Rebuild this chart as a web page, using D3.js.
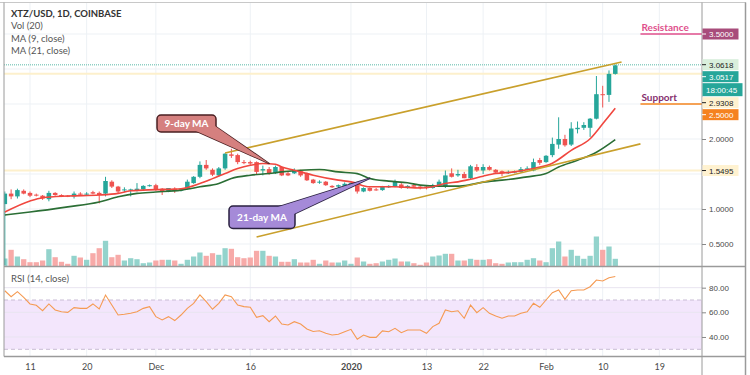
<!DOCTYPE html>
<html>
<head>
<meta charset="utf-8">
<script src="https://cdn.jsdelivr.net/npm/d3@7"></script>
<style>
  body { margin: 0; background: #fff; }
  svg { display: block; }
  text { font-family: Lato, "Open Sans", sans-serif; }
</style>
</head>
<body>
<script>
// daily candles, 7 Nov 2019 .. 12 Feb 2020
var firstDay = new Date(Date.UTC(2019, 10, 7));
var lastDay = new Date(Date.UTC(2020, 1, 12));

var opens = [
  1.07, 1.22, 1.18, 1.26, 1.23, 1.205, 1.19, 1.14, 1.23, 1.20,
  1.19, 1.18, 1.22, 1.21, 1.24, 1.23, 1.22, 1.39, 1.32, 1.27,
  1.27, 1.26, 1.28, 1.33, 1.34, 1.29, 1.25, 1.29, 1.26, 1.29,
  1.37, 1.46, 1.63, 1.56, 1.48, 1.58, 1.78, 1.77, 1.67, 1.67,
  1.67, 1.55, 1.57, 1.51, 1.60, 1.51, 1.51, 1.54, 1.51, 1.42,
  1.38, 1.39, 1.33, 1.32, 1.33, 1.35, 1.34, 1.25, 1.30, 1.28,
  1.27, 1.31, 1.32, 1.35, 1.30, 1.34, 1.32, 1.32, 1.30, 1.34,
  1.32, 1.51, 1.48, 1.50, 1.44, 1.60, 1.55, 1.60, 1.56, 1.54,
  1.51, 1.52, 1.53, 1.56, 1.55, 1.70, 1.67, 1.77, 1.92, 2.00,
  1.92, 2.14, 2.16, 2.16, 2.29, 2.64, 2.63, 2.93
];
var highs = [
  1.25, 1.28, 1.29, 1.28, 1.25, 1.22, 1.20, 1.26, 1.24, 1.21,
  1.20, 1.25, 1.24, 1.24, 1.26, 1.25, 1.46, 1.41, 1.33, 1.31,
  1.29, 1.37, 1.34, 1.35, 1.36, 1.30, 1.30, 1.31, 1.30, 1.42,
  1.47, 1.68, 1.70, 1.58, 1.60, 1.80, 1.86, 1.79, 1.70, 1.69,
  1.68, 1.62, 1.60, 1.62, 1.61, 1.53, 1.58, 1.56, 1.52, 1.43,
  1.41, 1.40, 1.34, 1.35, 1.38, 1.38, 1.35, 1.31, 1.31, 1.30,
  1.33, 1.34, 1.42, 1.37, 1.34, 1.36, 1.33, 1.33, 1.36, 1.42,
  1.55, 1.58, 1.56, 1.53, 1.63, 1.64, 1.64, 1.62, 1.57, 1.55,
  1.55, 1.55, 1.60, 1.61, 1.72, 1.73, 1.77, 2.02, 2.31, 2.06,
  2.24, 2.25, 2.24, 2.30, 2.90, 2.76, 2.98, 3.0618
];
var lows = [
  0.20, 1.14, 1.15, 1.21, 1.17, 1.18, 1.13, 1.11, 1.19, 1.17,
  1.17, 1.15, 1.19, 1.19, 1.21, 1.08, 1.18, 1.30, 1.22, 1.24,
  1.18, 1.25, 1.26, 1.32, 1.26, 1.20, 1.24, 1.23, 1.25, 1.28,
  1.36, 1.44, 1.56, 1.47, 1.46, 1.56, 1.73, 1.64, 1.64, 1.63,
  1.50, 1.48, 1.49, 1.50, 1.47, 1.47, 1.50, 1.46, 1.40, 1.36,
  1.36, 1.33, 1.30, 1.30, 1.32, 1.34, 1.22, 1.24, 1.25, 1.26,
  1.26, 1.30, 1.31, 1.29, 1.29, 1.31, 1.28, 1.28, 1.29, 1.33,
  1.30, 1.45, 1.46, 1.44, 1.43, 1.53, 1.50, 1.55, 1.51, 1.47,
  1.50, 1.51, 1.52, 1.55, 1.54, 1.63, 1.66, 1.74, 1.86, 1.89,
  1.90, 2.08, 2.13, 2.03, 2.28, 2.45, 2.53, 2.92
];
var closes = [
  1.22, 1.18, 1.27, 1.22, 1.19, 1.20, 1.15, 1.23, 1.20, 1.18,
  1.18, 1.22, 1.21, 1.22, 1.22, 1.20, 1.40, 1.32, 1.25, 1.28,
  1.28, 1.29, 1.33, 1.34, 1.28, 1.25, 1.30, 1.26, 1.29, 1.39,
  1.46, 1.63, 1.58, 1.49, 1.58, 1.79, 1.76, 1.67, 1.66, 1.65,
  1.53, 1.57, 1.51, 1.60, 1.48, 1.48, 1.55, 1.48, 1.41, 1.37,
  1.39, 1.34, 1.31, 1.34, 1.36, 1.37, 1.25, 1.30, 1.26, 1.27,
  1.32, 1.33, 1.39, 1.30, 1.33, 1.32, 1.30, 1.30, 1.34, 1.39,
  1.48, 1.46, 1.50, 1.44, 1.61, 1.55, 1.60, 1.56, 1.52, 1.51,
  1.53, 1.54, 1.57, 1.58, 1.67, 1.66, 1.76, 1.93, 2.00, 1.91,
  2.15, 2.16, 2.20, 2.29, 2.64, 2.63, 2.93, 3.0517
];
// volume, thousands
var volumes = [
  8, 16.7, 10, 7.3, 4.3, 4.3, 6, 17.3, 9.3, 4.7,
  2.7, 10.7, 9, 6.7, 13.3, 18.3, 25.7, 9.3, 11.7, 6,
  8.3, 7.3, 3.3, 4, 6, 6.7, 6.7, 6, 2.7, 6.7,
  10, 14, 10.7, 13.3, 11.7, 18.3, 17.7, 9.3, 8.3, 9,
  15.7, 15.7, 10.7, 10, 4.7, 4.7, 7.3, 4, 4, 6.7,
  2.7, 6, 4, 4, 6, 2.7, 9, 5, 2.7, 3.3,
  5, 6.7, 8, 5, 5, 3.3, 1.7, 4, 10, 11,
  12.7, 12.7, 6, 6, 7.7, 6.7, 6.7, 7.3, 3.3, 2.7,
  4, 4.3, 4.3, 6.7, 8.3, 6, 4.3, 18.3, 25, 10,
  16.7, 10.7, 7.7, 10.7, 30, 16.7, 20, 7.7
];
var rsiValues = [
  77.5, 72.7, 76.8, 72.2, 66.8, 65.7, 61.3, 66.8, 61.9, 60.5,
  60.0, 63.8, 63.2, 63.2, 66.8, 62.7, 74.0, 66.0, 57.8, 58.4,
  59.2, 60.5, 63.2, 64.6, 56.5, 53.8, 56.5, 53.3, 57.8, 63.2,
  67.3, 74.1, 68.6, 62.5, 67.3, 74.1, 72.7, 65.9, 64.6, 64.1,
  56.0, 57.3, 52.4, 57.0, 50.5, 49.7, 52.4, 50.5, 46.5, 44.5,
  45.1, 43.0, 41.6, 42.2, 44.3, 46.2, 38.1, 41.6, 39.7, 39.7,
  44.9, 44.3, 47.0, 43.5, 45.7, 45.7, 45.7, 43.0, 48.4, 51.1,
  61.9, 60.5, 61.3, 55.2, 65.9, 59.7, 63.8, 59.2, 57.0, 55.2,
  57.0, 57.0, 59.2, 60.5, 67.3, 64.1, 70.0, 75.9, 78.1, 70.5,
  77.5, 78.1, 78.1, 80.8, 86.2, 85.4, 88.1, 89.0
];

// moving averages
var ma9Dates = ["2019-11-07", "2019-11-11", "2019-11-13", "2019-11-17", "2019-11-22", "2019-11-25",
  "2019-11-27", "2019-12-01", "2019-12-05", "2019-12-08", "2019-12-10", "2019-12-12", "2019-12-14",
  "2019-12-16", "2019-12-18", "2019-12-20", "2019-12-21", "2019-12-23", "2019-12-26", "2019-12-30",
  "2020-01-01", "2020-01-04", "2020-01-08", "2020-01-12", "2020-01-14", "2020-01-16", "2020-01-18",
  "2020-01-20", "2020-01-22", "2020-01-24", "2020-01-27", "2020-01-30", "2020-02-02", "2020-02-05",
  "2020-02-08", "2020-02-10", "2020-02-12"];
var ma9Values = [0.956, 1.114, 1.161, 1.185, 1.199, 1.223,
  1.26, 1.277, 1.29, 1.365, 1.434, 1.507, 1.578,
  1.625, 1.649, 1.64, 1.60, 1.554, 1.483, 1.412,
  1.388, 1.317, 1.317, 1.30, 1.317, 1.365, 1.388,
  1.426, 1.469, 1.507, 1.53, 1.578, 1.654, 1.838,
  2.004, 2.217, 2.439];
var ma21Dates = ["2019-11-07", "2019-11-11", "2019-11-17", "2019-11-22", "2019-11-25", "2019-11-28",
  "2019-12-01", "2019-12-05", "2019-12-08", "2019-12-11", "2019-12-13", "2019-12-16", "2019-12-19",
  "2019-12-21", "2019-12-24", "2019-12-27", "2019-12-30", "2020-01-02", "2020-01-04", "2020-01-07",
  "2020-01-10", "2020-01-12", "2020-01-15", "2020-01-18", "2020-01-20", "2020-01-22", "2020-01-25",
  "2020-01-29", "2020-02-01", "2020-02-03", "2020-02-06", "2020-02-09", "2020-02-12"];
var ma21Values = [0.915, 0.956, 1.03, 1.10, 1.175, 1.223,
  1.242, 1.27, 1.317, 1.365, 1.436, 1.483, 1.507,
  1.53, 1.554, 1.564, 1.53, 1.505, 1.436, 1.398,
  1.374, 1.341, 1.327, 1.327, 1.348, 1.384, 1.412,
  1.459, 1.507, 1.60, 1.696, 1.81, 1.99];

// drawn channel lines: [date, price]
var upperChannel = [["2019-12-12", 1.80], ["2020-02-13", 3.10]];
var lowerChannel = [["2019-12-17", 0.60], ["2020-02-16", 1.93]];

// horizontal levels
var resistanceLevel = 3.5;
var supportLevel = 2.5;
var supportNote = 2.9308;
var baseLevel = 1.5495;
var countdownText = "18:00:45";

// x axis
var tickDates = ["2019-11-11", "2019-11-20", "2019-12-01", "2019-12-16", "2020-01-01",
  "2020-01-13", "2020-01-22", "2020-02-01", "2020-02-10", "2020-02-19"];
var tickLabels = ["11", "20", "Dec", "16", "2020", "13", "22", "Feb", "10", "19"];
var priceTicks = [0.5, 1, 2];
var priceGrid = [0.5, 1, 1.5, 2, 2.5, 3, 3.5];
var rsiTicks = [40, 60, 80];

var parse = d3.utcParse("%Y-%m-%d");
var dates = d3.utcDay.range(firstDay, d3.utcDay.offset(lastDay, 1));
var candles = dates.map(function(d, i) {
  return {date: d, open: opens[i], high: highs[i], low: lows[i], close: closes[i],
          volume: volumes[i], rsi: rsiValues[i]};
});
var ma9 = ma9Dates.map(function(d, i) { return {date: parse(d), v: ma9Values[i]}; });
var ma21 = ma21Dates.map(function(d, i) { return {date: parse(d), v: ma21Values[i]}; });

// layout
var width = 750, height = 375;
var plotLeft = 4, plotRight = 702, plotTop = 3;
var mainBottom = 266.5, rsiBottom = 356.5;

var x = d3.scaleUtc()
    .domain([parse("2019-11-11"), parse("2020-02-10")])
    .range([30, 602.7]);
var y = d3.scaleLinear().domain([1, 3.5]).range([209, 34]);
var yVol = d3.scaleLinear().domain([0, 30]).range([mainBottom, mainBottom - 30]);
var yRsi = d3.scaleLinear().domain([30, 70]).range([349.3, 300]);
var day = x(parse("2019-11-12")) - x(parse("2019-11-11"));

var up = "#26a69a", down = "#ef5350";
var gridColor = "#edf1f5";

var svg = d3.select("body").append("svg")
    .attr("width", width)
    .attr("height", height);

var defs = svg.append("defs");
defs.append("clipPath").attr("id", "plotclip")
  .append("rect")
    .attr("x", plotLeft).attr("y", plotTop)
    .attr("width", plotRight - plotLeft).attr("height", mainBottom - plotTop);
defs.append("clipPath").attr("id", "rsiclip")
  .append("rect")
    .attr("x", plotLeft).attr("y", mainBottom)
    .attr("width", plotRight - plotLeft).attr("height", rsiBottom - mainBottom);

// grid
svg.append("g").selectAll("line")
  .data(tickDates)
  .enter().append("line")
    .attr("x1", function(d) { return x(parse(d)); })
    .attr("x2", function(d) { return x(parse(d)); })
    .attr("y1", plotTop).attr("y2", rsiBottom)
    .attr("stroke", gridColor);

svg.append("g").selectAll("line")
  .data(priceGrid)
  .enter().append("line")
    .attr("x1", plotLeft).attr("x2", plotRight)
    .attr("y1", function(d) { return y(d); })
    .attr("y2", function(d) { return y(d); })
    .attr("stroke", gridColor);

// rsi background band
svg.append("rect")
    .attr("x", plotLeft).attr("width", plotRight - plotLeft)
    .attr("y", yRsi(70)).attr("height", yRsi(30) - yRsi(70))
    .attr("fill", "#f3e6fc");

svg.append("g").selectAll("line")
  .data(rsiTicks)
  .enter().append("line")
    .attr("x1", plotLeft).attr("x2", plotRight)
    .attr("y1", function(d) { return yRsi(d); })
    .attr("y2", function(d) { return yRsi(d); })
    .attr("stroke", "#e8e4f0");

svg.append("g").selectAll("line")
  .data([70, 30])
  .enter().append("line")
    .attr("x1", plotLeft).attr("x2", plotRight)
    .attr("y1", function(d) { return yRsi(d); })
    .attr("y2", function(d) { return yRsi(d); })
    .attr("stroke", "#c9bcd4")
    .attr("stroke-dasharray", "4,3");

// main pane content
var main = svg.append("g").attr("clip-path", "url(#plotclip)");

// pale level lines
main.selectAll(".level")
  .data([supportNote, baseLevel])
  .enter().append("line")
    .attr("x1", plotLeft).attr("x2", plotRight)
    .attr("y1", function(d) { return y(d); })
    .attr("y2", function(d) { return y(d); })
    .attr("stroke", "#fdf0cc")
    .attr("stroke-width", 2);

// last high dotted line
main.append("line")
    .attr("x1", plotLeft).attr("x2", plotRight)
    .attr("y1", y(highs[highs.length - 1]))
    .attr("y2", y(highs[highs.length - 1]))
    .attr("stroke", "#8fd0c4")
    .attr("stroke-width", 1.5)
    .attr("stroke-dasharray", "1,1");

// volume
main.selectAll(".vol")
  .data(candles)
  .enter().append("rect")
    .attr("x", function(d) { return x(d.date) - day * 0.42; })
    .attr("width", day * 0.84)
    .attr("y", function(d) { return yVol(d.volume); })
    .attr("height", function(d) { return yVol(0) - yVol(d.volume); })
    .attr("fill", function(d) { return d.close >= d.open ? "#93d3cc" : "#f7aaa8"; });

// candles
var c = main.selectAll(".candle")
  .data(candles)
  .enter().append("g");

c.append("line")
    .attr("x1", function(d) { return x(d.date); })
    .attr("x2", function(d) { return x(d.date); })
    .attr("y1", function(d) { return y(d.high); })
    .attr("y2", function(d) { return y(d.low); })
    .attr("stroke", function(d) { return d.close >= d.open ? up : down; });

c.append("rect")
    .attr("x", function(d) { return x(d.date) - day * 0.36; })
    .attr("width", day * 0.72)
    .attr("y", function(d) { return y(Math.max(d.open, d.close)); })
    .attr("height", function(d) { return Math.max(1, Math.abs(y(d.open) - y(d.close))); })
    .attr("fill", function(d) { return d.close >= d.open ? up : down; });

// moving averages
var maLine = d3.line()
    .x(function(d) { return x(d.date); })
    .y(function(d) { return y(d.v); })
    .curve(d3.curveMonotoneX);

main.append("path").datum(ma21)
    .attr("d", maLine)
    .attr("fill", "none")
    .attr("stroke", "#2b6e35")
    .attr("stroke-width", 1.6);

main.append("path").datum(ma9)
    .attr("d", maLine)
    .attr("fill", "none")
    .attr("stroke", "#f0473f")
    .attr("stroke-width", 1.6);

// channel lines
svg.selectAll(".channel")
  .data([upperChannel, lowerChannel])
  .enter().append("line")
    .attr("x1", function(d) { return x(parse(d[0][0])); })
    .attr("y1", function(d) { return y(d[0][1]); })
    .attr("x2", function(d) { return x(parse(d[1][0])); })
    .attr("y2", function(d) { return y(d[1][1]); })
    .attr("stroke", "#c9a02c")
    .attr("stroke-width", 1.6);

// rsi line
svg.append("path").datum(candles)
    .attr("d", d3.line()
      .x(function(d) { return x(d.date); })
      .y(function(d) { return yRsi(d.rsi); }))
    .attr("fill", "none")
    .attr("stroke", "#f59a52")
    .attr("stroke-width", 1.1)
    .attr("clip-path", "url(#rsiclip)");

// callouts: box plus a wedge pointing at the line
function callout(box, tip, tailA, tailB, text, fill, stroke) {
  var L = box[0], T = box[1], R = box[2], B = box[3];
  var wedge = "M" + tailA + "L" + tip + "L" + tailB + "Z";
  svg.append("path")
      .attr("d", wedge)
      .attr("fill", fill).attr("stroke", stroke).attr("stroke-width", 1.5)
      .attr("stroke-linejoin", "round");
  svg.append("rect")
      .attr("x", L).attr("y", T).attr("width", R - L).attr("height", B - T)
      .attr("rx", 4)
      .attr("fill", fill).attr("stroke", stroke).attr("stroke-width", 1.5);
  // cover the box border where the wedge joins
  svg.append("path")
      .attr("d", wedge)
      .attr("fill", fill);
  svg.append("text")
      .attr("x", (L + R) / 2).attr("y", (T + B) / 2 + 3.5)
      .attr("text-anchor", "middle")
      .attr("fill", "#fff")
      .style("font-size", "10px").style("font-weight", "bold")
      .text(text);
}

var tip9 = [x(parse("2019-12-19")), y(1.65)];
callout([157, 115, 216, 132], tip9, [196, 131], [215, 126], "9-day MA", "#d5807f", "#4a1f22");
var tip21 = [x(parse("2020-01-04")), y(1.44)];
callout([229, 206, 295, 228.5], tip21, [278, 207], [294, 214], "21-day MA", "#a58ad8", "#2a2140");

// resistance / support markers
var markStart = x(parse("2020-02-16"));
svg.append("line")
    .attr("x1", markStart).attr("x2", plotRight)
    .attr("y1", y(resistanceLevel)).attr("y2", y(resistanceLevel))
    .attr("stroke", "#e0508c").attr("stroke-width", 1.5);
svg.append("text")
    .attr("x", markStart + 1).attr("y", y(resistanceLevel) - 3)
    .attr("fill", "#e0508c")
    .style("font-size", "10px").style("font-weight", "bold")
    .text("Resistance");
svg.append("line")
    .attr("x1", markStart).attr("x2", plotRight)
    .attr("y1", y(supportLevel)).attr("y2", y(supportLevel))
    .attr("stroke", "#f5861f").attr("stroke-width", 1.5);
svg.append("text")
    .attr("x", markStart + 1).attr("y", y(supportLevel) - 3)
    .attr("fill", "#862f6e")
    .style("font-size", "10px").style("font-weight", "bold")
    .text("Support");

// pane borders
svg.append("line").attr("x1", 0).attr("x2", 746).attr("y1", 2.5).attr("y2", 2.5)
    .attr("stroke", "#c8c8c8");
svg.append("line").attr("x1", plotLeft).attr("x2", plotLeft).attr("y1", 2.5).attr("y2", rsiBottom)
    .attr("stroke", "#9a9a9a");
svg.append("line").attr("x1", plotRight).attr("x2", plotRight).attr("y1", 2.5).attr("y2", height)
    .attr("stroke", "#9a9a9a");
svg.append("line").attr("x1", 745.5).attr("x2", 745.5).attr("y1", 2.5).attr("y2", height)
    .attr("stroke", "#9a9a9a").attr("stroke-width", 1.5);
svg.append("line").attr("x1", plotLeft).attr("x2", 746).attr("y1", mainBottom).attr("y2", mainBottom)
    .attr("stroke", "#9a9a9a").attr("stroke-width", 1.5);
svg.append("line").attr("x1", plotLeft).attr("x2", 746).attr("y1", rsiBottom).attr("y2", rsiBottom)
    .attr("stroke", "#9a9a9a").attr("stroke-width", 1.5);

// axes
function styleAxis(g) {
  g.select(".domain").remove();
  g.selectAll(".tick line").attr("stroke", "#888");
  g.selectAll(".tick text").attr("fill", "#4a4a4a")
    .style("font-family", "'Liberation Sans', Arial, sans-serif").style("font-size", "8px");
}

svg.append("g")
    .attr("transform", "translate(" + plotRight + ",0)")
    .call(d3.axisRight(y).tickValues(priceTicks).tickSize(4).tickPadding(3)
      .tickFormat(d3.format(".4f")))
    .call(styleAxis);

svg.append("g")
    .attr("transform", "translate(" + plotRight + ",0)")
    .call(d3.axisRight(yRsi).tickValues(rsiTicks).tickSize(4).tickPadding(3)
      .tickFormat(d3.format(".2f")))
    .call(styleAxis);

svg.append("g")
    .attr("transform", "translate(0," + rsiBottom + ")")
    .call(d3.axisBottom(x).tickValues(tickDates.map(parse)).tickSize(0).tickPadding(7.6)
      .tickFormat(function(d, i) { return tickLabels[i]; }))
    .call(function(g) {
      g.select(".domain").remove();
      g.selectAll(".tick text").attr("fill", "#4a4a4a").style("font-size", "9px")
        .style("font-weight", function(d, i) { return tickLabels[i] === "2020" ? "bold" : "normal"; });
    });

// price labels on the right, stacked so they do not overlap
var last = candles[candles.length - 1];
var priceLabels = [
  {v: resistanceLevel, text: d3.format(".4f")(resistanceLevel), fill: "#a84c7b", color: "#fff"},
  {v: last.high, text: d3.format(".4f")(last.high), fill: "#d9efdc", color: "#222"},
  {v: last.close, text: d3.format(".4f")(last.close), fill: "#26a69a", color: "#fff"},
  {v: last.close, text: countdownText, fill: "#26a69a", color: "#fff", h: 13, w: 40},
  {v: supportNote, text: d3.format(".4f")(supportNote), fill: "#fff2d0", color: "#222"},
  {v: supportLevel, text: d3.format(".4f")(supportLevel), fill: "#f5821f", color: "#fff"},
  {v: baseLevel, text: d3.format(".4f")(baseLevel), fill: "#fff2d0", color: "#222"}
];
var prevBottom = -Infinity;
priceLabels.forEach(function(l) {
  var h = l.h || 11;
  var cy = Math.max(y(l.v), prevBottom + 1 + h / 2);
  prevBottom = cy + h / 2;
  var g = svg.append("g");
  g.append("rect")
      .attr("x", plotRight + 0.5).attr("y", cy - h / 2)
      .attr("width", l.w || 36).attr("height", h)
      .attr("fill", l.fill);
  if (!l.h) {
    g.append("line")
        .attr("x1", plotRight).attr("x2", plotRight + 4)
        .attr("y1", cy).attr("y2", cy)
        .attr("stroke", l.color);
  }
  g.append("text")
      .attr("x", plotRight + (l.h ? 4 : 7)).attr("y", cy + 3)
      .attr("fill", l.color)
      .style("font-family", "'Liberation Sans', Arial, sans-serif")
      .style("font-size", "8px")
      .text(l.text);
});

// legend text
var legend = [
  {t: "XTZ/USD, 1D, COINBASE", bold: true},
  {t: "Vol (20)"},
  {t: "MA (9, close)"},
  {t: "MA (21, close)"}
];
svg.append("g").selectAll("text")
  .data(legend)
  .enter().append("text")
    .attr("x", 11)
    .attr("y", function(d, i) { return 17 + i * 12.4; })
    .attr("fill", function(d) { return d.bold ? "#333" : "#555"; })
    .style("font-size", "9.5px")
    .style("font-weight", function(d) { return d.bold ? "bold" : "normal"; })
    .text(function(d) { return d.t; });

svg.append("text")
    .attr("x", 11).attr("y", 282)
    .attr("fill", "#555")
    .style("font-size", "9.5px")
    .text("RSI (14, close)");
</script>
</body>
</html>
